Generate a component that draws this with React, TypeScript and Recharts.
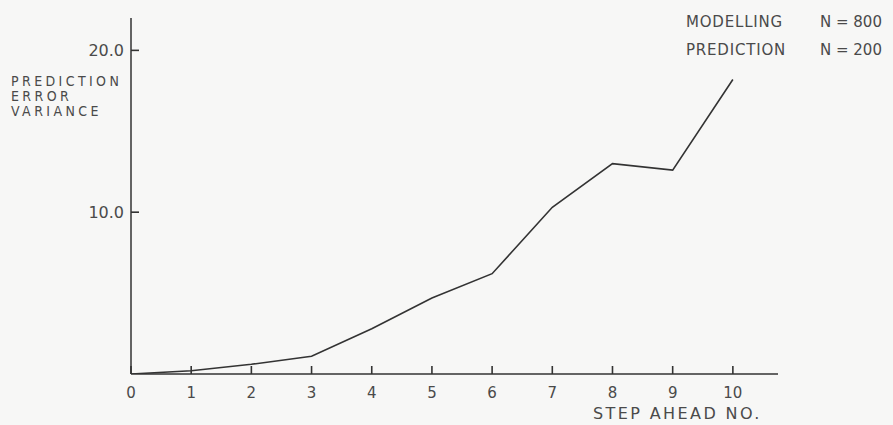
import React from 'react';
import { LineChart, Line, XAxis, YAxis, Label } from 'recharts';

const steps = [0, 1, 2, 3, 4, 5, 6, 7, 8, 9, 10];
const variance = [0, 0.2, 0.6, 1.1, 2.8, 4.7, 6.2, 10.3, 13.0, 12.6, 18.2];
const xTicks = [0, 1, 2, 3, 4, 5, 6, 7, 8, 9, 10];
const yTicks = [10, 20];
const yTitleLines = ['PREDICTION', 'ERROR', 'VARIANCE'];
const xTitle = 'STEP AHEAD NO.';
const legendRows = [
  ['MODELLING', 'N = 800'],
  ['PREDICTION', 'N = 200'],
];

const data = steps.map((s, i) => ({ step: s, v: variance[i] }));

const W = 893;
const H = 425;
const M = { top: 18, right: 115, bottom: 0, left: 0 };
const X_AXIS_H = 51;
const Y_AXIS_W = 131;
const AXIS_Y = H - M.bottom - X_AXIS_H;
const AXIS_X = M.left + Y_AXIS_W;

const INK = '#333333';
const TXT = '#4a4a4a';
const FONT = '"DejaVu Sans", sans-serif';
const CFONT = '"DejaVu Sans Condensed", "DejaVu Sans", sans-serif';

const XTick = (props: any) => {
  const { x, payload } = props;
  return (
    <g>
      <path d={`M${x},${AXIS_Y}V${AXIS_Y - 8}`} stroke={INK} strokeWidth={1.6} fill="none" />
      <text x={x} y={AXIS_Y + 24} textAnchor="middle" fill={TXT} fontSize={15} fontFamily={FONT}>
        {payload.value}
      </text>
    </g>
  );
};

const YTick = (props: any) => {
  const { y, payload } = props;
  return (
    <g>
      <path d={`M${AXIS_X},${y}H${AXIS_X + 8}`} stroke={INK} strokeWidth={1.6} fill="none" />
      <text x={AXIS_X - 7} y={y + 6} textAnchor="end" fill={TXT} fontSize={16} fontFamily={FONT}>
        {Number(payload.value).toFixed(1)}
      </text>
    </g>
  );
};

const YTitle = () => (
  <g>
    {yTitleLines.map((t, i) => (
      <text key={t} x={11} y={86 + i * 15} fill={TXT} fontSize={14} fontFamily={CFONT} letterSpacing={3.4}>
        {t}
      </text>
    ))}
  </g>
);

const XTitle = () => (
  <text x={593} y={419} fill={TXT} fontSize={16} fontFamily={FONT} letterSpacing={2.4}>
    {xTitle}
  </text>
);

export default function App() {
  return (
    <div style={{ position: 'absolute', left: 0, top: 0, width: W, height: H, background: '#f7f7f6' }}>
      <LineChart width={W} height={H} data={data} margin={M}>
        <XAxis
          dataKey="step"
          type="number"
          domain={[0, 10.75]}
          ticks={xTicks}
          allowDataOverflow
          height={X_AXIS_H}
          tickLine={false}
          tick={<XTick />}
          axisLine={{ stroke: INK, strokeWidth: 1.5 }}
        >
          <Label content={<XTitle />} />
        </XAxis>
        <YAxis
          type="number"
          domain={[0, 22]}
          ticks={yTicks}
          allowDataOverflow
          width={Y_AXIS_W}
          tickLine={false}
          tick={<YTick />}
          axisLine={{ stroke: INK, strokeWidth: 1.5 }}
        >
          <Label content={<YTitle />} />
        </YAxis>
        <Line type="linear" dataKey="v" stroke={INK} strokeWidth={1.6} dot={false} isAnimationActive={false} />
      </LineChart>
      <div
        style={{
          position: 'absolute',
          left: 686,
          top: 8,
          fontFamily: FONT,
          fontSize: 15,
          color: TXT,
          letterSpacing: 0.8,
          lineHeight: '28px',
          whiteSpace: 'nowrap',
        }}
      >
        {legendRows.map((r) => (
          <div key={r[0]} style={{ display: 'flex' }}>
            <span style={{ width: 134, display: 'inline-block' }}>{r[0]}</span>
            <span style={{ letterSpacing: 0 }}>{r[1]}</span>
          </div>
        ))}
      </div>
    </div>
  );
}
